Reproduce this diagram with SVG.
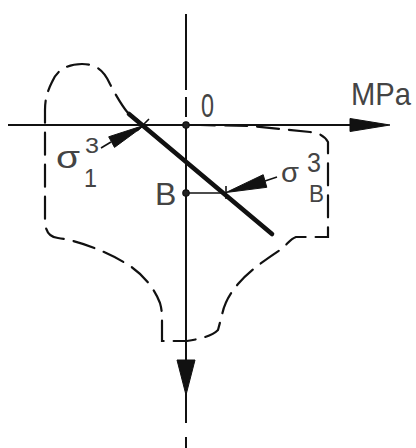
<svg xmlns="http://www.w3.org/2000/svg" width="416" height="448" viewBox="0 0 416 448">
<style>
.ax{stroke:#111;stroke-width:2;fill:none}
.thin{stroke:#111;stroke-width:1.6;fill:none}
.bnd{stroke:#111;stroke-width:2.2;fill:none;stroke-dasharray:22 10;stroke-linecap:round}
.head{fill:#111;stroke:#111;stroke-width:1}
.thick{stroke:#111;stroke-width:4.6;stroke-linecap:round;fill:none}
.dot{fill:#222;stroke:#111;stroke-width:1.2}
text{font-family:"Liberation Sans",Arial,sans-serif;fill:#444}
</style>
<rect width="416" height="448" fill="#fff"/>
<g id="boundary">
<path class="bnd" d="M128,113 C122,106 114,92 110,84 C105,73 98,64 82,64 C65,64 56,72 52,82 C47,92 45,100 45,110 L45,222 Q46,237 58,238 C75,240 105,250 130,266 C145,276 155,290 160,303 C162,310 162,315 162,320 L162,341 L187,341 C200,339 212,336 218,330 L222,315 C224,305 228,296 238,284 C250,270 268,258 280,250 C287,245 290,239 296,237 L328,237 L328,142 C324,135 318,133 310,132 C290,130 270,128 250,126 L200,125"/>
</g>
<g id="connectors">
<path class="ax" d="M8,125 H352"/>
<polygon class="head" points="350,118.5 390,125 350,131.5"/>
<path class="ax" d="M186,14 V90 M186,97 V117 M186,125 V362 M186,392 V423 M186,437 V448"/>
<polygon class="head" points="177,360 195,360 186,395"/>
<path class="thin" d="M186,193 H226"/>
<path class="thick" d="M129,114 L272,234"/>
<path class="thin" d="M137,119 L149,131 M137,131 L149,119"/>
<path class="thin" d="M226,186 V199"/>
<polygon class="head" points="145,125 108.7,136.8 114.5,147.4"/>
<path class="thin" d="M111,142 L101,148"/>
<polygon class="head" points="226,192.5 263.2,174.7 266.8,187.3"/>
<path class="thin" d="M265,181 L277,177"/>
</g>
<g id="node-0">
<circle class="dot" cx="186" cy="125" r="3.2"/>
<text x="201" y="117" font-size="33" textLength="13" lengthAdjust="spacingAndGlyphs">0</text>
</g>
<g id="node-B">
<circle class="dot" cx="186" cy="193" r="3.2"/>
<text x="155" y="205" font-size="32">B</text>
</g>
<g id="label-MPa">
<text x="351" y="105" font-size="32" textLength="60" lengthAdjust="spacingAndGlyphs">MPa</text>
</g>
<g id="label-sigma1">
<text x="56" y="168" font-size="32" textLength="24" lengthAdjust="spacingAndGlyphs">σ</text>
<text x="85" y="153" font-size="22" textLength="14" lengthAdjust="spacingAndGlyphs">3</text>
<text x="84" y="187" font-size="26" textLength="13" lengthAdjust="spacingAndGlyphs">1</text>
</g>
<g id="label-sigmaB">
<text x="281" y="182" font-size="28" textLength="18" lengthAdjust="spacingAndGlyphs">σ</text>
<text x="307" y="172" font-size="27" textLength="14" lengthAdjust="spacingAndGlyphs">3</text>
<text x="309" y="202" font-size="24" textLength="15" lengthAdjust="spacingAndGlyphs">B</text>
</g>
</svg>
